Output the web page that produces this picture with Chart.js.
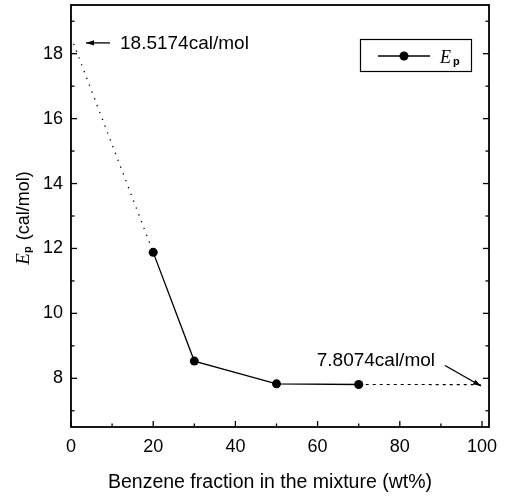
<!DOCTYPE html>
<html>
<head>
<meta charset="utf-8">
<script src="https://cdn.jsdelivr.net/npm/chart.js@4.4.1/dist/chart.umd.min.js"></script>
<style>
  html, body { margin: 0; padding: 0; background: #fff; }
  #wrap { width: 508px; height: 498px; position: relative; }
</style>
</head>
<body>
<div id="wrap"><canvas id="chart"></canvas></div>
<script>
// Ep vs benzene fraction, measured points
const fraction = [20, 30, 50, 70];
const ep = [11.88, 8.53, 7.83, 7.81];

// extrapolated values at the two pure ends
const epAtZero = 18.5174;
const epAtHundred = 7.8074;

const xTicks = [0, 20, 40, 60, 80, 100];
const yTicks = [8, 10, 12, 14, 16, 18];
const xMinor = [10, 30, 50, 70, 90];
const yMinor = [7, 9, 11, 13, 15, 17, 19];

const labelHigh = epAtZero + 'cal/mol';
const labelLow = epAtHundred + 'cal/mol';

const SANS = "'Liberation Sans', Arial, sans-serif";
const SERIF = "'Liberation Serif', 'Times New Roman', serif";

function line(ctx, x1, y1, x2, y2) {
  ctx.beginPath();
  ctx.moveTo(x1, y1);
  ctx.lineTo(x2, y2);
  ctx.stroke();
}

function arrow(ctx, x1, y1, x2, y2) {
  const a = Math.atan2(y2 - y1, x2 - x1);
  line(ctx, x1, y1, x2, y2);
  ctx.beginPath();
  ctx.moveTo(x2, y2);
  ctx.lineTo(x2 - 8 * Math.cos(a) + 2.6 * Math.sin(a), y2 - 8 * Math.sin(a) - 2.6 * Math.cos(a));
  ctx.lineTo(x2 - 8 * Math.cos(a) - 2.6 * Math.sin(a), y2 - 8 * Math.sin(a) + 2.6 * Math.cos(a));
  ctx.closePath();
  ctx.fill();
}

// frame, inward ticks, titles, legend and the two value callouts
const decorations = {
  id: 'decorations',
  afterDraw(chart) {
    const ctx = chart.ctx;
    const { left, right, top, bottom } = chart.chartArea;
    const xs = chart.scales.x;
    const ys = chart.scales.y;
    ctx.save();
    ctx.strokeStyle = '#000';
    ctx.fillStyle = '#000';

    ctx.lineWidth = 1.8;
    ctx.strokeRect(left, top, right - left, bottom - top);

    ctx.lineWidth = 1.3;
    xTicks.concat(xMinor).forEach(v => {
      const px = xs.getPixelForValue(v);
      const len = xMinor.includes(v) ? 3.5 : 6;
      line(ctx, px, bottom, px, bottom - len);
    });
    yTicks.concat(yMinor).forEach(v => {
      const py = ys.getPixelForValue(v);
      const len = yMinor.includes(v) ? 3.5 : 6;
      line(ctx, left, py, left + len, py);
      line(ctx, right, py, right - len, py);
    });

    // x axis title
    ctx.font = '19.5px ' + SANS;
    ctx.textAlign = 'center';
    ctx.textBaseline = 'alphabetic';
    ctx.fillText('Benzene fraction in the mixture (wt%)', 270, 488);

    // y axis title: italic E with subscript p, then the unit
    ctx.save();
    ctx.translate(22, 218);
    ctx.rotate(-Math.PI / 2);
    ctx.textAlign = 'left';
    const eFont = 'italic 19px ' + SERIF;
    const pFont = 'bold 11px ' + SANS;
    const uFont = '18px ' + SANS;
    ctx.font = eFont; const wE = ctx.measureText('E').width;
    ctx.font = pFont; const wP = ctx.measureText('p').width;
    ctx.font = uFont; const wU = ctx.measureText(' (cal/mol)').width;
    let cx = -(wE + wP + 1 + wU) / 2;
    ctx.font = eFont; ctx.fillText('E', cx, 6.5); cx += wE;
    ctx.font = pFont; ctx.fillText('p', cx, 9); cx += wP + 1;
    ctx.font = uFont; ctx.fillText(' (cal/mol)', cx, 6.5);
    ctx.restore();

    // legend box
    ctx.lineWidth = 1.2;
    ctx.strokeRect(360.5, 39.5, 111, 32);
    ctx.lineWidth = 1.3;
    line(ctx, 378, 56, 430, 56);
    ctx.beginPath();
    ctx.arc(404, 56, 4.5, 0, Math.PI * 2);
    ctx.fill();
    ctx.font = 'italic 18px ' + SERIF;
    ctx.textAlign = 'left';
    ctx.fillText('E', 440, 63);
    ctx.font = 'bold 11px ' + SANS;
    ctx.fillText('p', 453, 65);

    // callout at the benzene-free end
    const p0x = xs.getPixelForValue(0);
    const p0y = ys.getPixelForValue(epAtZero);
    ctx.lineWidth = 1.3;
    arrow(ctx, p0x + 39, p0y + 6, p0x + 15, p0y + 6);
    ctx.font = '19px ' + SANS;
    ctx.textAlign = 'left';
    ctx.fillText(labelHigh, p0x + 49, p0y + 12.5);

    // callout at the pure benzene end
    const p1x = xs.getPixelForValue(100);
    const p1y = ys.getPixelForValue(epAtHundred);
    arrow(ctx, p1x - 37, p1y - 19, p1x - 1, p1y + 1.5);
    ctx.textAlign = 'right';
    ctx.fillText(labelLow, p1x - 47, p1y - 18.5);

    ctx.restore();
  }
};

const tickFont = { family: SANS, size: 18 };

new Chart(document.getElementById('chart'), {
  type: 'line',
  data: {
    datasets: [
      {
        data: fraction.map((x, i) => ({ x, y: ep[i] })),
        borderColor: '#000',
        borderWidth: 1.3,
        pointRadius: 4.5,
        pointBackgroundColor: '#000',
        pointBorderWidth: 0,
        tension: 0
      },
      {
        data: [{ x: 0, y: epAtZero }, { x: fraction[0], y: ep[0] }],
        borderColor: '#000',
        borderWidth: 1.3,
        borderDash: [1.3, 6],
        pointRadius: 0
      },
      {
        data: [{ x: fraction[3], y: ep[3] }, { x: 100, y: epAtHundred }],
        borderColor: '#000',
        borderWidth: 1.2,
        borderDash: [3, 4],
        pointRadius: 0
      }
    ]
  },
  options: {
    responsive: true,
    maintainAspectRatio: false,
    animation: false,
    layout: { padding: { left: 0, top: 5, right: 19, bottom: 0 } },
    plugins: {
      legend: { display: false },
      tooltip: { enabled: false }
    },
    scales: {
      x: {
        type: 'linear',
        min: 0,
        max: 101.7,
        afterBuildTicks: s => { s.ticks = xTicks.map(v => ({ value: v })); },
        afterFit: s => { s.height = 71; s.paddingLeft = 0; s.paddingRight = 0; },
        grid: { display: false, drawTicks: false },
        border: { display: false },
        ticks: { color: '#000', font: tickFont, padding: 9, maxRotation: 0, autoSkip: false }
      },
      y: {
        min: 6.5,
        max: 19.5,
        afterBuildTicks: s => { s.ticks = yTicks.map(v => ({ value: v })); },
        afterFit: s => { s.width = 71; s.paddingTop = 0; s.paddingBottom = 0; },
        grid: { display: false, drawTicks: false },
        border: { display: false },
        ticks: { color: '#000', font: tickFont, padding: 8, autoSkip: false }
      }
    }
  },
  plugins: [decorations]
});
</script>
</body>
</html>
